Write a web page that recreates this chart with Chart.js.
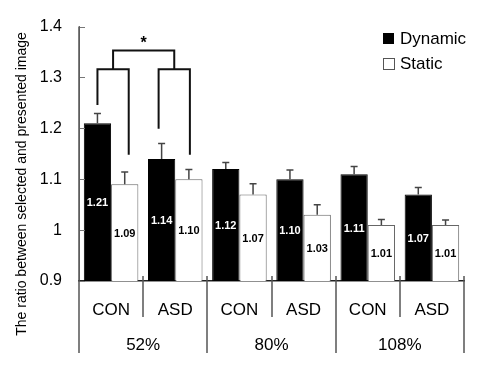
<!DOCTYPE html>
<html>
<head>
<meta charset="utf-8">
<script src="https://cdn.jsdelivr.net/npm/chart.js@4"></script>
<style>
  body { margin: 0; background: #fff; }
</style>
</head>
<body>
<canvas id="myChart" width="500" height="368"></canvas>
<script>
const groups = ['CON', 'ASD', 'CON', 'ASD', 'CON', 'ASD']
const speeds = ['52%', '80%', '108%']
const dynamic = [1.21, 1.14, 1.12, 1.10, 1.11, 1.07]
const dynamicErr = [0.019, 0.030, 0.013, 0.018, 0.015, 0.014]
const statik = [1.09, 1.10, 1.07, 1.03, 1.01, 1.01]
const statikErr = [0.024, 0.019, 0.021, 0.020, 0.011, 0.010]
const yTicks = [0.9, 1.0, 1.1, 1.2, 1.3, 1.4]

const font = 'Liberation Sans, Arial, sans-serif'
const errs = [dynamicErr, statikErr]

// error bars, value labels, brackets, legend, separators
const extras = {
  id: 'extras',
  afterDatasetsDraw(chart) {
    const ctx = chart.ctx
    const y = chart.scales.y
    const area = chart.chartArea
    ctx.save()

    // error bars (upper only)
    chart.data.datasets.forEach((ds, d) => {
      const meta = chart.getDatasetMeta(d)
      meta.data.forEach((bar, i) => {
        const top = y.getPixelForValue(ds.data[i] + errs[d][i])
        ctx.strokeStyle = '#444'
        ctx.lineWidth = 1.5
        ctx.beginPath()
        ctx.moveTo(bar.x, bar.y)
        ctx.lineTo(bar.x, top)
        ctx.moveTo(bar.x - 3.5, top)
        ctx.lineTo(bar.x + 3.5, top)
        ctx.stroke()
      })
    })

    // value labels inside bars (bars start below the axis, so use area bottom)
    ctx.font = 'bold 11px ' + font
    ctx.textAlign = 'center'
    ctx.textBaseline = 'middle'
    chart.data.datasets.forEach((ds, d) => {
      const meta = chart.getDatasetMeta(d)
      meta.data.forEach((bar, i) => {
        ctx.fillStyle = d === 0 ? '#fff' : '#000'
        ctx.fillText(ds.data[i].toFixed(2), bar.x, (bar.y + area.bottom) / 2 + 1)
      })
    })

    // significance bracket over 52%
    const d0 = chart.getDatasetMeta(0).data
    const s0 = chart.getDatasetMeta(1).data
    const lv1 = y.getPixelForValue(1.353)
    const lv2 = y.getPixelForValue(1.316)
    const legs = [
      [d0[0].x, 1.246], [s0[0].x + 4, 1.148],
      [d0[1].x - 3, 1.199], [s0[1].x + 1, 1.148]
    ]
    ctx.strokeStyle = '#111'
    ctx.lineWidth = 2
    ctx.beginPath()
    for (let k = 0; k < 4; k += 2) {
      const a = legs[k], b = legs[k + 1]
      ctx.moveTo(a[0], y.getPixelForValue(a[1]))
      ctx.lineTo(a[0], lv2)
      ctx.lineTo(b[0], lv2)
      ctx.lineTo(b[0], y.getPixelForValue(b[1]))
    }
    const m1 = (legs[0][0] + legs[1][0]) / 2
    const m2 = (legs[2][0] + legs[3][0]) / 2
    ctx.moveTo(m1, lv2)
    ctx.lineTo(m1, lv1)
    ctx.lineTo(m2, lv1)
    ctx.lineTo(m2, lv2)
    ctx.stroke()
    ctx.fillStyle = '#000'
    ctx.font = 'bold 16px ' + font
    ctx.textBaseline = 'alphabetic'
    ctx.fillText('*', (m1 + m2) / 2, lv1 - 3)

    // inner ticks on y axis
    ctx.strokeStyle = '#777'
    ctx.lineWidth = 1
    ctx.beginPath()
    yTicks.forEach((v) => {
      const py = Math.round(y.getPixelForValue(v)) + 0.5
      ctx.moveTo(area.left, py)
      ctx.lineTo(area.left + 6, py)
    })
    ctx.stroke()

    // category separators below axis
    const w = (area.right - area.left) / groups.length
    ctx.strokeStyle = '#555'
    ctx.lineWidth = 1.5
    ctx.beginPath()
    for (let b = 0; b <= groups.length; b++) {
      const px = Math.round(area.left + b * w)
      ctx.moveTo(px, b === 0 ? area.top : area.bottom - 5)
      ctx.lineTo(px, b % 2 === 0 ? 353 : 317)
    }
    ctx.stroke()

    // legend
    ctx.fillStyle = '#000'
    ctx.fillRect(383, 33, 11, 11)
    ctx.fillStyle = '#fff'
    ctx.strokeStyle = '#555'
    ctx.lineWidth = 1
    ctx.fillRect(383.5, 58.5, 11, 11)
    ctx.strokeRect(383.5, 58.5, 11, 11)
    ctx.fillStyle = '#000'
    ctx.font = '17px ' + font
    ctx.textAlign = 'left'
    ctx.textBaseline = 'middle'
    ctx.fillText('Dynamic', 400, 39)
    ctx.fillText('Static', 400, 64)

    // y axis title
    ctx.save()
    ctx.translate(22, 184)
    ctx.rotate(-Math.PI / 2)
    ctx.textAlign = 'center'
    ctx.font = '14px ' + font
    ctx.fillText('The ratio between selected and presented image', 0, 0)
    ctx.restore()

    ctx.restore()
  }
}

new Chart(document.getElementById('myChart'), {
  type: 'bar',
  data: {
    labels: groups,
    datasets: [{
      label: 'Dynamic',
      data: dynamic,
      backgroundColor: '#000',
      borderColor: '#000',
      borderWidth: 1,
      categoryPercentage: 0.85,
      barPercentage: 1.0
    }, {
      label: 'Static',
      data: statik,
      backgroundColor: '#fff',
      borderColor: '#666',
      borderWidth: 1,
      categoryPercentage: 0.85,
      barPercentage: 1.0
    }]
  },
  options: {
    responsive: false,
    animation: false,
    layout: { padding: { left: 0, right: 36, top: 25, bottom: 0 } },
    plugins: {
      legend: { display: false },
      tooltip: { enabled: false }
    },
    scales: {
      y: {
        min: 0.9,
        max: 1.4,
        afterFit: (s) => { s.width = 79 },
        afterBuildTicks: (s) => { s.ticks = yTicks.map((v) => ({ value: v })) },
        grid: { display: false, drawTicks: false },
        border: { display: true, color: '#777', width: 1 },
        ticks: {
          padding: 17,
          color: '#000',
          font: { family: font, size: 16 },
          callback: (v) => String(+v.toFixed(1))
        }
      },
      x: {
        weight: 0,
        afterFit: (s) => { s.height = 45 },
        grid: { display: false, drawTicks: false },
        border: { display: true, color: '#222', width: 1.5 },
        ticks: {
          padding: 19,
          color: '#000',
          font: { family: font, size: 17 }
        }
      },
      x2: {
        type: 'category',
        position: 'bottom',
        labels: speeds,
        offset: true,
        weight: 1,
        afterFit: (s) => { s.height = 42 },
        grid: { display: false, drawTicks: false },
        border: { display: false },
        ticks: {
          padding: 9,
          color: '#000',
          font: { family: font, size: 17 }
        }
      }
    }
  },
  plugins: [extras]
})
</script>
</body>
</html>
